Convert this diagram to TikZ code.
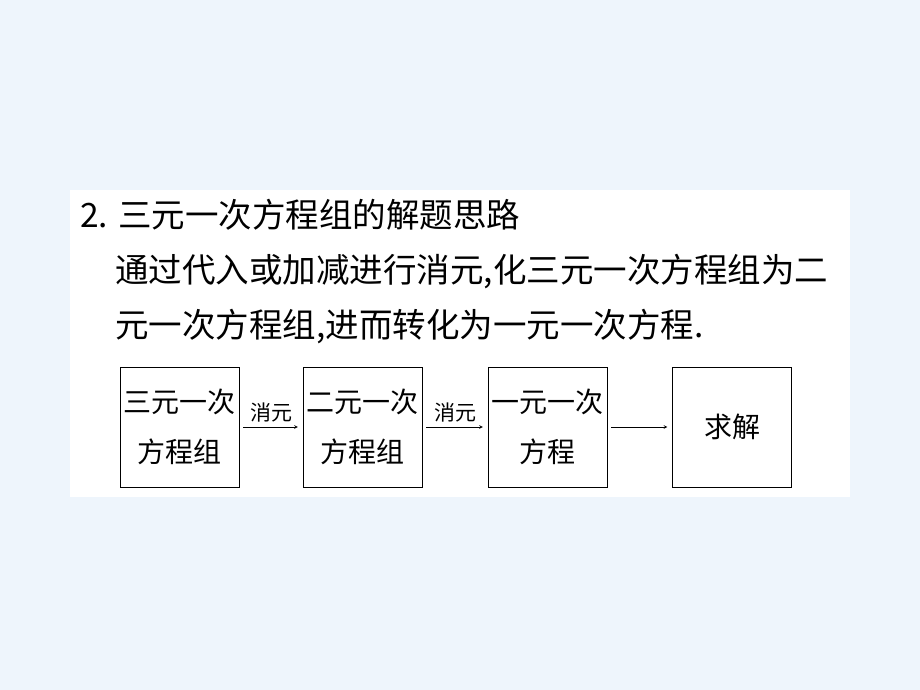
\documentclass[tikz,border=0pt]{standalone}
\usepackage{fontspec}
\newfontfamily\cjk{Noto Sans CJK SC}
\usepackage{tikz}
\definecolor{pagebg}{HTML}{EEF5FC}
\tikzstyle{line} = [anchor=west,inner sep=0pt,font=\cjk\fontsize{33.5}{33.5}\selectfont]
\tikzstyle{box} = [draw,thin,minimum width=119pt,minimum height=120pt,inner sep=0pt,align=center,font=\cjk\fontsize{28}{50}\selectfont]
\tikzstyle{arr} = [draw,semithick,->,>=stealth,shorten <=4pt,shorten >=5pt]
\tikzstyle{lab} = [above,inner sep=5pt,font=\cjk\fontsize{21}{21}\selectfont]

\begin{document}
\begin{tikzpicture}[x=1pt,y=-1pt]
    \fill[pagebg] (0,0) rectangle (920,690);
    \fill[white] (70,190) rectangle (850,497);

    \node[line] (T1) at (80,215) {2. 三元一次方程组的解题思路};
    \node[line] (T2) at (115,272) {通过代入或加减进行消元,化三元一次方程组为二};
    \node[line] (T3) at (115,327) {元一次方程组,进而转化为一元一次方程.};

    \node[box] (S3) at (179.5,427) {三元一次\\方程组};
    \node[box] (S2) at (362.5,427) {二元一次\\方程组};
    \node[box] (S1) at (547.5,427) {一元一次\\方程};
    \node[box] (X) at (732,427) {求解};

    \draw[arr] (S3) -- node[lab] {消元} (S2);
    \draw[arr] (S2) -- node[lab] {消元} (S1);
    \draw[arr] (S1) -- (X);

\end{tikzpicture}
\end{document}
